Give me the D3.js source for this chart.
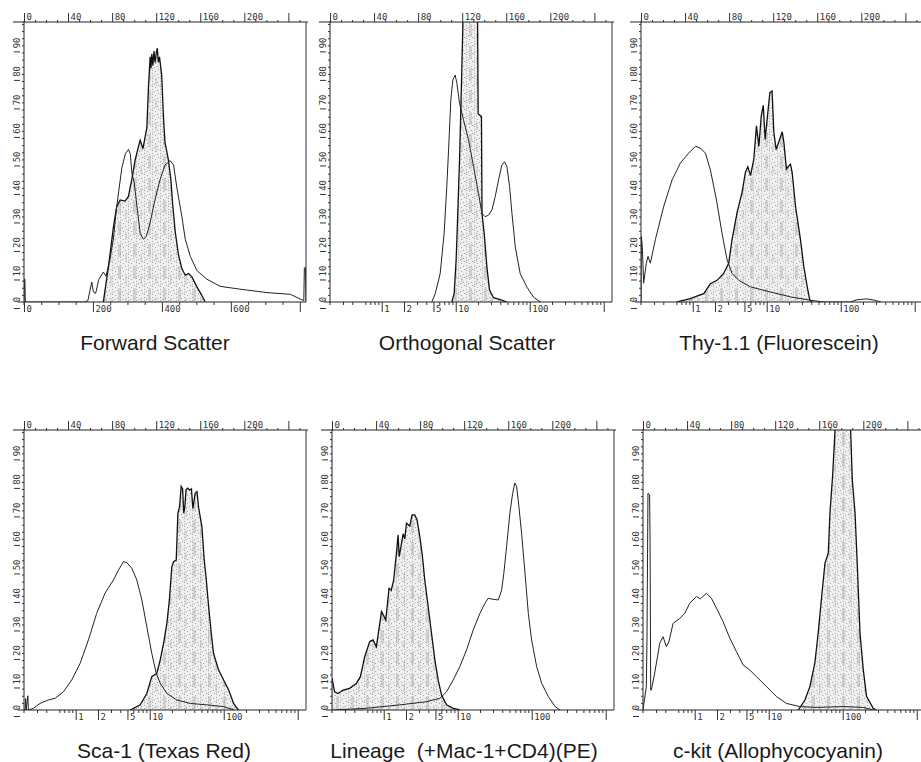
<!DOCTYPE html>
<html>
<head>
<meta charset="utf-8">
<script src="https://cdn.jsdelivr.net/npm/d3@7"></script>
<style>
  body { margin: 0; background: #fff; }
  svg { display: block; }
  .axis text { font-family: "DejaVu Sans Mono", monospace; font-size: 9px; fill: #333; }
  .axis line { stroke: #333; }
  .title { font-family: "Liberation Sans", Arial, sans-serif; font-size: 21px; fill: #1a1a1a; white-space: pre; }
</style>
</head>
<body>
<svg id="chart" width="921" height="762"></svg>
<script>
// tick labels
var topTicks = [0, 40, 80, 120, 160, 200, 240];
var yTicks = [0, 10, 20, 30, 40, 50, 60, 70, 80, 90];
var logTicks = [1, 2, 5, 10, 100, 1000];
var logMinor = [0.3, 0.4, 0.6, 0.7, 0.8, 0.9, 3, 4, 6, 7, 8, 9, 20, 30, 40, 50, 60, 70, 80, 90,
                200, 300, 400, 500, 600, 700, 800, 900];
var fscTicks = [0, 200, 400, 600, 800];

var titles = ["Forward Scatter", "Orthogonal Scatter", "Thy-1.1 (Fluorescein)",
              "Sca-1 (Texas Red)", "Lineage  (+Mac-1+CD4)(PE)", "c-kit (Allophycocyanin)"];

// histograms: [channel (0-256), count]
var fscFilled = [[72,0],[76.7,12.4],[81.2,26.4],[84.2,33.5],[87.3,35.8],[91.8,35.4],[94.8,37],[97.9,43],
  [100.9,49.8],[103.9,54.5],[105.5,56.7],[108,53.8],[110,58],[111.5,61],[113,75.5],[114.5,86],[115.3,82],
  [116,87],[117,83],[118,88],[119,84],[120,87],[121,89],[122,84],[123,86],[125,79.5],[126.7,64],[128,56],
  [131,50],[133.3,43],[135,34],[137.3,24.6],[140.3,16.4],[143.3,11.7],[146.4,9.4],[149.4,10],[152.4,8.8],
  [157,5.3],[161.5,2.3],[164.5,0]];
var fscOpen = [[0,0],[0.3,8],[0.8,8],[1.2,0],[55,0],[58,0.5],[61.5,7],[63,3.5],[65,3],[68,8],[72,10.5],
  [74.5,9],[78,15],[81,21.7],[84,33],[88.8,47],[92,52],[94.8,53.5],[96.5,52],[98,45],[100,42],[102.4,34],
  [105.5,24],[108.5,22],[111,23],[114,27],[119,36],[123.6,43],[128,48],[132.7,49.6],[135.8,48],[138.8,40],
  [143.3,30],[146.4,22],[151,16],[157,11],[166,8],[178,5.5],[196,4.5],[220.6,3.3],[241.8,2.7],[251,1],
  [254,0.5],[254.5,12],[255.5,12],[256,0]];

var sscFilled = [[110.6,0],[112.7,2.9],[114.5,14.7],[116,31],[117.6,49.8],[119,70.9],[120.6,97],[121,120],
  [133.5,120],[134,97],[134.5,66],[137.5,65],[138,31],[140,24],[142.4,12.4],[144.8,4.2],[148.5,1.5],
  [154.5,0.8],[160.6,0]];
var sscOpen = [[92.4,0],[95.5,2.9],[100,9.9],[103.6,24],[106,40.3],[107.6,53],[109.7,70.9],[111.5,77.9],
  [113.6,79.6],[115.2,76.7],[117.6,69.7],[121.2,63.9],[125.8,56.8],[130.3,47.5],[134.8,38.1],[137.9,31.1],
  [140.9,29.9],[144,30.5],[147,32.3],[150,37],[153,42.8],[156,48],[158.5,49.2],[160.6,47.5],[163,40.5],
  [165.2,31],[168.2,19.3],[172.7,9.9],[178.8,5.2],[184.8,1.7],[191,0]];

var thyFilled = [[32.7,0],[44.8,1.2],[52.4,2.3],[57,2.9],[63,6.4],[69,7.6],[75,10],[79.6,13.6],[82.7,22],
  [87.3,31.5],[91.8,38.5],[94.8,45.5],[97,47.4],[99.4,44.3],[102.4,50],[104.8,61.8],[107,54.6],[109.2,65.3],
  [111,69],[112.7,57],[114.5,64],[117,73.4],[119,74],[120.6,59.4],[122.7,53.5],[125,56],[128.2,59.7],
  [129.7,56],[132,46.6],[134.2,47.8],[135.7,48.3],[137.2,45.5],[140.3,33.5],[144.8,21.8],[147.8,12.4],
  [150.9,5.3],[153.3,0.6],[155.4,0]];
var thyOpen = [[0,0],[0.3,23],[1.2,19.5],[2.4,6.6],[4.8,13.6],[6.4,16],[8.5,13.6],[13,21.8],[20.6,33.5],
  [28.2,42.8],[35.7,48.7],[43.3,52.2],[49.4,54.6],[53.9,54],[58.5,52.2],[63,46.3],[68.5,35.8],[73.6,24],
  [78.2,14.7],[82.7,10],[88.8,7.6],[99.4,5.3],[117.6,3.5],[135.7,1.8],[154,0.6],[166,0],[190,0],[196,0.8],
  [205,1.1],[212,0.6],[218,0]];

var scaFilled = [[96.4,0],[105.5,1.8],[111.5,5.8],[116,11.7],[120.6,12.9],[123.6,17.5],[126.7,23.4],
  [129.7,30.4],[132,38.6],[134.2,50.3],[135.8,52],[138.2,52.6],[139.7,69],[141.2,71.3],[142.7,78.4],
  [144,77.5],[145,69],[145.9,71],[147.1,77.2],[148.5,77.8],[150.3,77.2],[152,77.5],[153.3,70.7],[155.4,76],
  [157,76.6],[158.5,71],[161.5,64.3],[163.6,52.6],[165.5,45.6],[167.6,36.3],[170,26.9],[172,19.9],
  [176.7,14],[181.2,10.5],[185.8,7],[190.3,2.3],[193.3,0.6],[195,0]];
var scaOpen = [[0,0],[1,0],[1.5,4],[2,0],[3.5,5],[4,0],[8.5,0.6],[14.5,2.3],[22,3.5],[28.3,4.1],[35.8,6.4],
  [43.3,10.5],[51,16.4],[58.5,24.6],[66,33.9],[73.6,41],[81.2,45.6],[85.8,49.1],[90.3,52],[93.3,51.7],
  [97.9,49.7],[102.4,45.6],[107,38.6],[111.5,29.2],[116,19.9],[120,12.9],[123.6,9.4],[129.7,5.8],
  [138.8,3.5],[151,2.3],[166,1.8],[181,1.2],[190.9,0]];

var linFilled = [[0,11.1],[2.4,6.4],[5.5,5.8],[10,7],[16,7.6],[22.2,9.4],[25.8,11.7],[29.7,18.7],[34.3,24],
  [37.3,24.6],[40.3,22.2],[43.4,30.4],[44.9,34.5],[47,33],[48.8,31.5],[51.8,42.7],[53.8,42],[56,45.6],
  [58.5,55],[60,61.4],[61,53.8],[62.5,57],[64.6,61.8],[66.1,60],[67.6,65.5],[70.6,64.5],[72.7,68.4],
  [75.1,68.4],[77.2,66.7],[79.7,60.8],[82.1,53.8],[84.2,45.6],[87.3,36.3],[90.3,27],[93.4,17.5],
  [96.4,10.5],[99.4,5.3],[104,1.8],[110,0.6],[116,0]];
var linOpen = [[0.9,0],[31.3,0.6],[61.5,1.8],[85.8,2.9],[97.9,4.1],[104,6.4],[110,10.5],[116,15.2],
  [122.2,21.1],[128.2,28.1],[134.3,33.9],[138.8,37.4],[141.8,39.2],[146.4,38.8],[151,38.6],[154,42.1],
  [156,48],[158.5,57.3],[161.5,69],[164,76],[166,79.6],[167.6,78.4],[169.7,71.3],[172.1,62],[175.2,48],
  [178.2,33.9],[181.2,24.6],[185.8,15.2],[190.3,9.4],[196.4,4.7],[202.5,1.2],[207,0]];

var kitFilled = [[141,0],[147,3.5],[151.5,8.2],[156,16.4],[159,26.9],[162.2,39.8],[165.2,51.5],[168.2,55],
  [169.7,69],[172.1,81.9],[174.3,97.9],[175,120],[188,120],[188.5,98],[190,80.7],[192.5,69],[194.6,50.3],
  [197,26.9],[200,14],[203,4.7],[209,0.6],[212,0]];
var kitOpen = [[0,0],[1.5,4.1],[3,8],[3.6,23.4],[4.5,76],[6,75.5],[6.4,59.6],[7,7],[7.6,7],[10.6,12.9],
  [15.2,23.4],[18.2,25.7],[21.2,22.2],[23.6,24],[27.3,30.4],[33.4,32.1],[37.9,33.9],[42.4,37.4],[48.5,39.8],
  [52,39],[57.6,40.9],[62.1,39.2],[66.7,35.7],[72.7,31],[78.8,25.2],[84.8,20.5],[90.9,15.8],[97,14],
  [103,11.7],[112.1,8.2],[121.2,4.7],[130.3,2.3],[142.4,1.2],[157.6,0.9],[181.8,1.2],[200,0.9],[209,0]];

// layout of the six panels
var W = 282, H = 280;
var panels = [
  { title: titles[0], left: 24,  top: 22,  filled: fscFilled, open: fscOpen, scale: "linear", titleX: 155 },
  { title: titles[1], left: 330, top: 22,  filled: sscFilled, open: sscOpen, scale: "log", titleX: 467 },
  { title: titles[2], left: 641, top: 22,  filled: thyFilled, open: thyOpen, scale: "log", titleX: 779 },
  { title: titles[3], left: 24,  top: 430, filled: scaFilled, open: scaOpen, scale: "log", titleX: 164 },
  { title: titles[4], left: 332, top: 430, filled: linFilled, open: linOpen, scale: "log", titleX: 464 },
  { title: titles[5], left: 643, top: 430, filled: kitFilled, open: kitOpen, scale: "log", titleX: 778 }
];

var svg = d3.select("#chart");
svg.append("rect").attr("width", 921).attr("height", 762).attr("fill", "#fff");

//Stipple pattern for the gated population
var defs = svg.append("defs");
var pat = defs.append("pattern").attr("id", "stipple")
    .attr("patternUnits", "userSpaceOnUse").attr("width", 8).attr("height", 8);
pat.append("rect").attr("width", 8).attr("height", 8).attr("fill", "#efefef");
pat.selectAll("rect.dot")
    .data([[0,0],[0,3],[0,6],[3,1],[5,4],[2,5],[6,7]])
    .join("rect").attr("class", "dot")
    .attr("x", d => d[0]).attr("y", d => d[1])
    .attr("width", 1).attr("height", 1).attr("fill", "#a6a6a6");
var streak = defs.append("pattern").attr("id", "streak")
    .attr("patternUnits", "userSpaceOnUse").attr("width", 15).attr("height", 22);
streak.append("rect").attr("x", 4).attr("y", 2).attr("width", 3).attr("height", 13)
    .attr("fill", "#a8a8a8").attr("opacity", 0.4);
streak.append("rect").attr("x", 11).attr("y", 12).attr("width", 2).attr("height", 8)
    .attr("fill", "#a8a8a8").attr("opacity", 0.3);

var x = d3.scaleLinear().domain([0, 256]).range([0, W]);
var y = d3.scaleLinear().domain([0, 98.2]).range([H, 0]);
var logX = d3.scaleLog().domain([0.2, 0.2 * Math.pow(10, W / 74)]).range([0, W]);
var fscX = d3.scaleLinear().domain([0, 818]).range([0, W]);

var area = d3.area().x(d => x(d[0])).y0(H).y1(d => y(d[1]));
var line = d3.line().x(d => x(d[0])).y(d => y(d[1]));

panels.forEach(function(p, i) {
    var g = svg.append("g").attr("transform", "translate(" + p.left + "," + p.top + ")");

    defs.append("clipPath").attr("id", "clip" + i)
        .append("rect").attr("x", 0).attr("y", 0).attr("width", W).attr("height", H);

    var plot = g.append("g").attr("clip-path", "url(#clip" + i + ")");
    plot.append("path").datum(p.filled).attr("d", area).attr("fill", "url(#stipple)");
    plot.append("path").datum(p.filled).attr("d", area).attr("fill", "url(#streak)");
    plot.append("path").datum(p.filled).attr("d", line)
        .attr("fill", "none").attr("stroke", "#111").attr("stroke-width", 1.3);
    plot.append("path").datum(p.open).attr("d", line)
        .attr("fill", "none").attr("stroke", "#222").attr("stroke-width", 1);

    //Frame lines
    g.append("line").attr("x1", -11).attr("x2", W + 2).attr("y1", 0).attr("y2", 0)
        .attr("stroke", "#222");
    g.append("line").attr("x1", -6).attr("x2", W).attr("y1", H).attr("y2", H)
        .attr("stroke", "#222");
    g.append("line").attr("x1", 0).attr("x2", 0).attr("y1", -1).attr("y2", H + 3)
        .attr("stroke", "#222");
    g.append("line").attr("x1", W).attr("x2", W).attr("y1", 0).attr("y2", H)
        .attr("stroke", "#333");

    //Top channel axis
    var top = g.append("g").attr("class", "axis")
        .call(d3.axisTop(x).tickValues(topTicks).tickSize(9).tickSizeOuter(0)
            .tickFormat(d => d === 240 ? "" : d));
    top.select(".domain").remove();
    top.selectAll("text").attr("x", 2).attr("y", -2).attr("dy", 0).style("text-anchor", "start");
    var topMinor = g.append("g").attr("class", "axis")
        .call(d3.axisTop(x).tickValues(d3.range(10, 256, 10).filter(v => v % 40 !== 0))
            .tickSize(2).tickFormat(""));
    topMinor.select(".domain").remove();

    //Left count axis
    var left = g.append("g").attr("class", "axis")
        .call(d3.axisLeft(y).tickValues(yTicks).tickSize(0));
    left.select(".domain").remove();
    left.selectAll("text").attr("transform", "rotate(-90)")
        .attr("x", 3).attr("y", -4).attr("dy", 0).style("text-anchor", "middle");
    var bars = g.append("g").attr("class", "axis").attr("transform", "translate(-4,6)")
        .call(d3.axisLeft(y).tickValues(yTicks).tickSize(6).tickFormat(""));
    bars.select(".domain").remove();
    var leftMinor = g.append("g").attr("class", "axis")
        .call(d3.axisLeft(y).tickValues(d3.range(2.5, 98, 2.5)).tickSize(2).tickFormat(""));
    leftMinor.select(".domain").remove();

    //Bottom axis
    var bottom = g.append("g").attr("class", "axis").attr("transform", "translate(0," + H + ")");
    if (p.scale === "log") {
        bottom.call(d3.axisBottom(logX).tickValues(logTicks).tickSize(10).tickSizeOuter(0)
            .tickFormat(d => d === 1000 ? "" : d));
        g.append("g").attr("class", "axis").attr("transform", "translate(0," + H + ")")
            .call(d3.axisBottom(logX).tickValues(logMinor).tickSize(3).tickFormat(""))
            .select(".domain").remove();
    } else {
        bottom.call(d3.axisBottom(fscX).tickValues(fscTicks).tickSize(10).tickSizeOuter(0)
            .tickFormat(d => d === 800 ? "" : d));
        g.append("g").attr("class", "axis").attr("transform", "translate(0," + H + ")")
            .call(d3.axisBottom(fscX).tickValues(d3.range(50, 800, 50).filter(v => v % 200 !== 0))
                .tickSize(3).tickFormat(""))
            .select(".domain").remove();
    }
    bottom.select(".domain").remove();
    bottom.selectAll("text").attr("x", 2).attr("y", 4).style("text-anchor", "start");

    //Title
    svg.append("text").attr("class", "title")
        .attr("x", p.titleX).attr("y", p.top + H + 48)
        .attr("text-anchor", "middle")
        .text(p.title);
});
</script>
</body>
</html>
